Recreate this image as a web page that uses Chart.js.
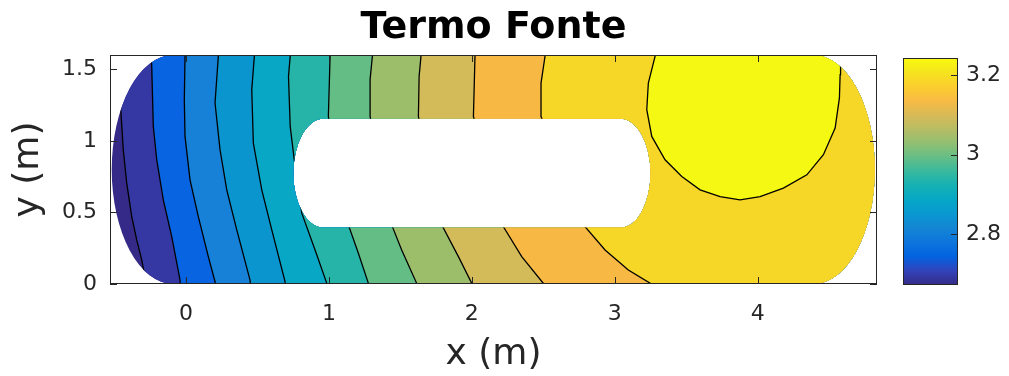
<!DOCTYPE html>
<html>
<head>
<meta charset="utf-8">
<title>Termo Fonte</title>
<script src="https://cdn.jsdelivr.net/npm/chart.js@4.4.1/dist/chart.umd.min.js"></script>
<style>
  body { margin: 0; background: #fff; }
  #wrap { position: relative; width: 1009px; height: 376px; }
  #wrap canvas { position: absolute; top: 0; }
  #fieldChart { left: 0; }
  #colorBar { left: 880px; }
</style>
</head>
<body>
<div id="wrap">
  <canvas id="fieldChart" width="1009" height="376"></canvas>
  <canvas id="colorBar" width="129" height="376"></canvas>
</div>
<script>
Chart.defaults.font.family = "'DejaVu Sans', sans-serif";

// Axis limits and ticks (m)
const xRange = [-0.532, 4.835];
const yRange = [0, 1.6];
const xTicks = [0, 1, 2, 3, 4];
const yTicks = [0, 0.5, 1, 1.5];

// Colour bar limits and ticks
const barRange = [2.672, 3.243];
const barTicks = [2.8, 3, 3.2];

// Plate outline and the slot cut out of it: straight edges, elliptical ends
const plate = { xl: -0.09, xr: 4.39, yc: 0.8, rx: 0.43, ry: 0.8 };
const slot = { xl: 0.961, xr: 3.040, yc: 0.774, rx: 0.21, ry: 0.38 };

// Isolines, each traced from top to bottom, running a little past the plate edge
const iso1 = [[-0.50, 1.70], [-0.455, 1.195], [-0.439, 0.938], [-0.415, 0.705], [-0.380, 0.471], [-0.345, 0.308], [-0.310, 0.168], [-0.26, -0.10]];
const iso2 = [[-0.25, 1.70], [-0.240, 1.521], [-0.229, 1.101], [-0.205, 0.868], [-0.159, 0.588], [-0.100, 0.331], [-0.042, 0.028], [-0.035, -0.10]];
const iso3 = [[-0.005, 1.70], [-0.007, 1.591], [-0.012, 1.288], [-0.007, 1.031], [0.028, 0.728], [0.086, 0.471], [0.156, 0.191], [0.203, 0.016], [0.215, -0.10]];
const iso4 = [[0.23, 1.70], [0.226, 1.591], [0.203, 1.265], [0.238, 0.938], [0.285, 0.658], [0.355, 0.378], [0.448, 0.028], [0.46, -0.10]];
const iso5 = [[0.48, 1.70], [0.478, 1.591], [0.460, 1.358], [0.471, 0.985], [0.530, 0.658], [0.600, 0.378], [0.693, 0.016], [0.70, -0.10]];
const iso6 = [[0.73, 1.70], [0.729, 1.591], [0.717, 1.451], [0.729, 1.101], [0.763, 0.821], [0.810, 0.495], [0.903, 0.238], [0.985, 0.005], [1.00, -0.10]];
const iso7 = [[1.01, 1.70], [1.008, 1.591], [0.996, 1.171], [1.136, 0.413], [1.206, 0.215], [1.276, 0.005], [1.29, -0.10]];
const iso8 = [[1.304, 1.70], [1.304, 1.591], [1.288, 1.428], [1.288, 1.171], [1.439, 0.413], [1.509, 0.238], [1.614, 0.005], [1.62, -0.10]];
const iso9 = [[1.644, 1.70], [1.644, 1.591], [1.631, 1.451], [1.626, 1.171], [1.789, 0.413], [1.906, 0.191], [1.999, 0.005], [2.01, -0.10]];
const iso10 = [[2.022, 1.70], [2.022, 1.591], [2.011, 1.171], [2.220, 0.401], [2.349, 0.191], [2.500, 0.005], [2.51, -0.10]];
const iso11 = [[2.512, 1.70], [2.512, 1.591], [2.484, 1.404], [2.484, 1.171], [2.792, 0.401], [2.932, 0.238], [3.095, 0.098], [3.247, 0.005], [3.27, -0.10]];
// loop round the hot spot, closed above the plate
const iso12 = [[3.30, 1.70], [3.282, 1.591], [3.235, 1.404], [3.224, 1.218], [3.259, 1.031], [3.352, 0.868], [3.469, 0.751], [3.597, 0.658], [3.737, 0.611], [3.877, 0.588], [4.017, 0.611], [4.180, 0.670], [4.344, 0.763], [4.460, 0.903], [4.542, 1.090], [4.572, 1.300], [4.577, 1.463], [4.58, 1.70]];
const isolines = [iso1, iso2, iso3, iso4, iso5, iso6, iso7, iso8, iso9, iso10, iso11, iso12];

// Fill of each band, coldest first
const bandColors = ['#352a87', '#3538a3', '#0864e0', '#1681d6', '#0b95cf', '#07a7c5', '#27b4a8', '#63bd84', '#9cbe6b', '#d2bb58', '#f8b944', '#f6d626', '#f5f812'];

// parula, sampled evenly
const parula = ['#352a87', '#3243ba', '#0363e1', '#0d75dc', '#1485d4', '#0998d1', '#06a7c6', '#15b1b4', '#38b99e',
  '#65be86', '#92bf73', '#b7bd64', '#d9ba56', '#f8bb44', '#fcce2e', '#f5e41d', '#f9fb0e'];

const axisColor = '#262626';
const tickLen = 7;

// stadium-like outline: flat top and bottom, half ellipses at both ends
function slotPath(ctx, xs, ys, s) {
  const l = xs.getPixelForValue(s.xl);
  const r = xs.getPixelForValue(s.xr);
  const cy = ys.getPixelForValue(s.yc);
  const rx = xs.getPixelForValue(s.xl + s.rx) - l;
  const ry = cy - ys.getPixelForValue(s.yc + s.ry);
  ctx.moveTo(l, cy - ry);
  ctx.lineTo(r, cy - ry);
  ctx.ellipse(r, cy, rx, ry, 0, -Math.PI / 2, Math.PI / 2);
  ctx.lineTo(l, cy + ry);
  ctx.ellipse(l, cy, rx, ry, 0, Math.PI / 2, Math.PI * 1.5);
  ctx.closePath();
}

// keep the contour fills and lines inside the plate, outside the slot
const plateClip = {
  id: 'plateClip',
  beforeDatasetsDraw(chart) {
    const { ctx, scales } = chart;
    ctx.save();
    ctx.beginPath();
    slotPath(ctx, scales.x, scales.y, plate);
    slotPath(ctx, scales.x, scales.y, slot);
    ctx.clip('evenodd');
  },
  afterDatasetsDraw(chart) {
    chart.ctx.restore();
  }
};

// box round the plot area with inward tick marks
const axesBox = {
  id: 'axesBox',
  afterDraw(chart, args, opts) {
    const { ctx, chartArea: a, scales } = chart;
    const sides = opts.sides || [];
    ctx.save();
    ctx.strokeStyle = axisColor;
    ctx.lineWidth = 1;
    ctx.beginPath();
    if (sides.includes('bottom') || sides.includes('top')) {
      scales.x.ticks.forEach(t => {
        const px = Math.round(scales.x.getPixelForValue(t.value)) + 0.5;
        if (sides.includes('bottom')) { ctx.moveTo(px, a.bottom); ctx.lineTo(px, a.bottom - tickLen); }
        if (sides.includes('top')) { ctx.moveTo(px, a.top); ctx.lineTo(px, a.top + tickLen); }
      });
    }
    scales.y.ticks.forEach(t => {
      const py = Math.round(scales.y.getPixelForValue(t.value)) + 0.5;
      if (sides.includes('left')) { ctx.moveTo(a.left, py); ctx.lineTo(a.left + tickLen, py); }
      if (sides.includes('right')) { ctx.moveTo(a.right, py); ctx.lineTo(a.right - tickLen, py); }
    });
    ctx.stroke();
    ctx.strokeRect(a.left + 0.5, a.top + 0.5, a.right - a.left - 1, a.bottom - a.top - 1);
    ctx.restore();
  }
};

const toPoints = line => line.map(([x, y]) => ({ x, y }));
const xFar = xRange[1] + 1;
const xNear = xRange[0] - 1;
const yLow = yRange[0] - 0.1;
const yHigh = yRange[1] + 0.1;

function band(points, color, order) {
  return { data: points, backgroundColor: color, borderColor: 'rgba(0,0,0,0)', borderWidth: 0, fill: 'shape', order };
}

// painter's order: coldest band over the whole plate, then each warmer region on top
let fieldSets = [band([{ x: xNear, y: yLow }, { x: xFar, y: yLow }, { x: xFar, y: yHigh }, { x: xNear, y: yHigh }], bandColors[0], 100)];
isolines.forEach((line, i) => {
  let pts = toPoints(line);
  let region = i < isolines.length - 1 ? [{ x: xFar, y: yHigh }, ...pts, { x: xFar, y: yLow }] : pts;
  fieldSets.push(band(region, bandColors[i + 1], 99 - i));
  fieldSets.push({ data: pts, borderColor: '#000', borderWidth: 1.3, fill: false, order: 0 });
});

let tickFont = { size: 22 };
let fieldChart = new Chart(document.getElementById('fieldChart'), {
  type: 'line',
  data: { datasets: fieldSets },
  options: {
    responsive: false,
    animation: false,
    events: [],
    elements: { point: { radius: 0 }, line: { tension: 0 } },
    layout: { padding: { left: 0, right: 132, top: 0, bottom: 0 } },
    plugins: {
      legend: { display: false },
      tooltip: { enabled: false },
      title: {
        display: true,
        text: 'Termo Fonte',
        fullSize: false,
        color: '#000',
        font: { size: 38, weight: 'bold', lineHeight: 1.2 },
        padding: { top: 5, bottom: 4.4 }
      },
      axesBox: { sides: ['bottom', 'top', 'left', 'right'] }
    },
    scales: {
      x: {
        type: 'linear',
        min: xRange[0],
        max: xRange[1],
        grid: { display: false, drawTicks: false },
        border: { display: false },
        afterBuildTicks: s => { s.ticks = xTicks.map(value => ({ value })); },
        afterFit: s => { s.height = 92; },
        ticks: { padding: 17, color: axisColor, font: tickFont, maxRotation: 0, autoSkip: false, callback: v => String(v) },
        title: { display: true, text: 'x (m)', color: axisColor, font: { size: 36, lineHeight: 1 }, padding: { top: 0, bottom: 3 } }
      },
      y: {
        type: 'linear',
        min: yRange[0],
        max: yRange[1],
        grid: { display: false, drawTicks: false },
        border: { display: false },
        afterBuildTicks: s => { s.ticks = yTicks.map(value => ({ value })); },
        afterFit: s => { s.width = 110; },
        ticks: { padding: 13, color: axisColor, font: tickFont, autoSkip: false, callback: v => String(v) },
        title: { display: true, text: 'y (m)', color: axisColor, font: { size: 36, lineHeight: 1 }, padding: { top: 11, bottom: 0 } }
      }
    }
  },
  plugins: [plateClip, axesBox]
});

// vertical parula ramp filling the colour bar
function parulaGradient(chart) {
  let a = chart.chartArea;
  if (!a) return parula[0];
  let g = chart.ctx.createLinearGradient(0, a.bottom, 0, a.top);
  parula.forEach((c, i) => g.addColorStop(i / (parula.length - 1), c));
  return g;
}

let colorBar = new Chart(document.getElementById('colorBar'), {
  type: 'bar',
  data: {
    labels: [''],
    datasets: [{
      data: [barRange],
      backgroundColor: ctx => parulaGradient(ctx.chart),
      borderWidth: 0,
      barPercentage: 1,
      categoryPercentage: 1
    }]
  },
  options: {
    responsive: false,
    animation: false,
    events: [],
    layout: { padding: { left: 23, top: 58, bottom: 91, right: 0 } },
    plugins: {
      legend: { display: false },
      tooltip: { enabled: false },
      axesBox: { sides: ['right'] }
    },
    scales: {
      x: { display: false },
      y: {
        position: 'right',
        min: barRange[0],
        max: barRange[1],
        grid: { display: false, drawTicks: false },
        border: { display: false },
        afterBuildTicks: s => { s.ticks = barTicks.map(value => ({ value })); },
        afterFit: s => { s.width = 51; },
        ticks: { padding: 8, color: axisColor, font: tickFont, callback: v => String(v) }
      }
    }
  },
  plugins: [axesBox]
});
</script>
</body>
</html>
